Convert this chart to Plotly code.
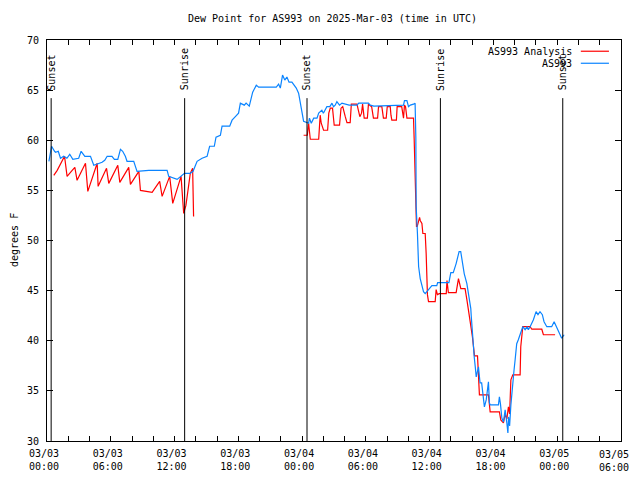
import pandas as pd
import plotly.graph_objects as go

BASE = pd.Timestamp("2025-03-03 00:00")
TITLE = "Dew Point for AS993 on 2025-Mar-03 (time in UTC)"

# Observed (AS993): hours since 2025-03-03 00:00 UTC, dew point F
obs_hours = [0.18, 0.43, 0.71, 0.81, 1.06, 1.27, 1.57, 1.87, 2.14, 2.43, 2.98, 3.21, 3.56, 4.09, 4.40,
             5.18, 5.43, 5.66, 6.11, 6.34, 6.66, 6.91, 7.12, 7.37, 7.53, 8.16, 8.47, 9.57, 11.30, 11.45,
             12.24, 12.57, 12.93, 13.48, 13.74, 14.12, 14.59, 15.06, 15.30, 15.74, 15.90, 16.31, 16.47,
             17.19, 17.41, 17.72, 18.02, 18.19, 18.56, 18.73, 19.03, 19.35, 19.69, 19.91, 21.57, 21.79,
             21.95, 22.16, 22.37, 22.57, 22.77, 23.04, 23.45, 23.67, 23.83, 23.98, 24.14, 24.61, 24.69,
             24.86, 25.09, 25.40, 25.56, 25.86, 26.00, 26.15, 26.33, 26.61, 26.81, 26.96, 27.11, 27.27,
             27.52, 27.75, 28.42, 29.16, 29.33, 30.24, 30.41, 30.75, 33.54, 33.63, 33.86, 34.01, 34.18,
             34.48, 34.63, 34.70, 34.73, 34.85, 34.88, 34.96, 35.11, 35.27, 35.42, 35.58, 35.89, 36.21,
             36.67, 36.75, 37.61, 37.81, 37.99, 38.22, 38.49, 38.77, 38.92, 39.12, 39.25, 39.50, 39.74,
             39.87, 39.91, 39.96, 40.02, 40.11, 40.19, 40.29, 40.38, 40.59, 40.74, 40.89, 41.06,
             41.15, 41.32, 41.53, 41.62, 41.70, 42.47, 42.56, 42.66, 42.79, 42.94, 43.10, 43.26, 43.36,
             43.42, 43.52, 43.64, 43.82, 43.94, 44.04, 44.19, 44.34, 44.51, 44.76, 44.98, 45.18, 45.28,
             45.45, 45.76, 46.01, 46.19, 46.38, 46.60, 46.76, 47.02, 47.48, 47.71, 47.91, 48.18, 48.42,
             48.65]
obs_dewpt = [57.9, 59.4, 58.9, 58.8, 58.9, 58.2, 58.4, 58.2, 58.6, 58.1, 58.2, 58.9, 58.4, 58.4, 57.5,
             57.8, 58.0, 58.4, 58.4, 58.1, 58.1, 59.1, 58.9, 58.4, 57.9, 57.9, 56.9, 57.0, 57.0, 56.4,
             56.1, 56.4, 56.7, 56.7, 56.9, 57.9, 58.2, 58.4, 59.4, 59.4, 60.3, 60.5, 61.4,
             61.4, 62.0, 62.35, 62.7, 63.7, 63.5, 63.7, 63.4, 64.8, 65.5, 65.3, 65.3, 65.6,
             65.2, 66.5, 66.0, 66.3, 65.8, 65.8, 65.2, 64.7, 63.7, 62.5, 61.9, 61.7, 62.2,
             61.7, 62.2, 62.2, 62.7, 63.0, 62.7, 63.0, 63.35, 63.35, 63.7, 63.35, 63.5, 63.85,
             63.5, 63.7, 63.5, 63.5, 63.7, 63.7, 63.5, 63.4, 63.5, 63.95, 63.95, 63.35, 63.5,
             63.6, 63.7, 60.2, 53.4, 50.7, 48.7, 47.4, 46.2, 45.4, 44.9, 44.7, 45.1, 45.5,
             45.5, 45.8, 45.8, 45.8, 46.8, 46.8, 47.7, 48.9, 48.9, 47.7, 46.7, 45.7, 44.2,
             43.2, 42.5, 41.7, 40.1, 39.4, 38.4, 37.4, 36.4, 37.4, 35.8, 35.8, 34.4,
             33.4, 34.1, 35.9, 33.8, 33.6, 33.6, 34.4, 33.7, 32.3, 31.9, 33.1, 31.8, 30.8,
             32.4, 31.5, 33.6, 36.1, 37.1, 38.1, 39.7, 40.1, 40.6, 41.4, 41.1, 41.4, 41.1,
             41.4, 42.1, 42.9, 42.6, 42.9, 42.6, 41.9, 41.4, 41.4, 41.9, 41.4, 40.75, 40.25,
             40.6]

# Analysis (AS993 Analysis); None marks the gap in the analysis record
ana_hours = [0.64, 0.96, 1.65, 1.89, 2.37, 2.62, 2.83, 3.62, 3.84, 4.72, 4.81, 5.60, 5.81, 6.66, 6.85,
             7.69, 7.85, 8.64, 8.79, 9.35, 9.89, 10.60, 10.83, 11.54, 11.83, 12.61, 12.86, 13.07,
             13.48, 13.70, 13.79, 18.1,
             24.14, 24.49, 24.61, 24.77, 25.56, 25.65, 25.70, 25.80, 26.02, 26.40, 26.51, 26.65, 26.86,
             27.02, 27.52, 27.66, 27.82, 28.06, 28.22, 28.52, 28.63, 29.16, 29.33, 29.43, 29.59, 29.69,
             29.84, 30.14, 30.24, 30.54, 30.71, 31.10, 31.19, 31.50, 31.65, 31.91, 32.01, 32.29, 32.36,
             32.44, 32.87, 32.94, 33.37, 33.54, 33.63, 33.73, 33.86, 34.48, 34.54, 34.63, 34.66,
             34.70, 34.76, 34.83, 35.05, 35.11, 35.27, 35.36, 35.58, 35.67, 35.73, 35.79, 35.89,
             36.52, 36.61, 36.73, 36.90, 37.56, 37.63, 37.76, 38.49, 38.71, 38.93, 39.33, 39.50,
             39.65, 39.81, 40.02, 40.11, 40.22, 40.50, 40.59, 40.68, 41.53, 41.69, 42.56, 42.69,
             42.94, 43.10, 43.26, 43.41, 43.52, 43.64, 43.82, 44.51, 44.57, 44.76, 45.45, 45.61,
             46.55, 46.70, 47.80]
ana_dewpt = [56.5, 57.0, 58.4, 56.4, 57.0, 57.3, 56.0, 57.7, 54.9, 57.7, 55.4, 57.2, 55.7, 57.5, 55.8,
             57.3, 55.6, 56.9, 55.0, 54.9, 54.8, 55.9, 54.4, 56.4, 53.7, 56.4, 52.7, 53.5,
             56.7, 57.2, 52.4, None,
             60.5, 60.5, 61.7, 60.1, 60.1, 62.0, 62.5, 61.7, 61.0, 61.0, 62.7, 63.2, 63.2,
             61.5, 61.5, 63.2, 63.35, 62.35, 61.75, 61.75, 63.6, 63.6, 62.7, 62.35, 62.7, 63.6,
             62.2, 62.2, 63.6, 63.35, 62.2, 62.2, 63.35, 63.35, 62.2, 62.2, 63.35, 63.35, 62.5,
             62.0, 62.0, 63.35, 63.35, 62.2, 63.5, 63.35, 62.2, 62.2, 60.2, 56.2, 53.4,
             52.9, 51.4, 51.4, 52.3, 52.0, 51.7, 50.7, 50.7, 48.7, 46.4, 44.6, 43.9,
             43.9, 45.1, 44.6, 44.7, 44.7, 46.0, 44.8, 44.8, 46.2, 45.2, 45.2, 44.1,
             43.2, 41.9, 40.4, 39.6, 38.5, 38.5, 35.6, 34.6, 34.6, 32.9, 32.9, 32.1,
             31.8, 32.7, 32.2, 33.4, 32.7, 36.1, 36.6, 36.6, 39.4, 41.4, 41.4, 41.15,
             41.15, 40.6, 40.6]

# Sun events (hours since start)
event_names = ["Sunset", "Sunrise", "Sunset", "Sunrise", "Sunset"]
event_hours = [0.39, 12.95, 24.46, 37.01, 48.52]

y_ticks = [30, 35, 40, 45, 50, 55, 60, 65, 70]


def to_time(hours):
    return [BASE + pd.Timedelta(hours=h) for h in hours]


FONT = "DejaVu Sans Mono"
RED = "#ff0000"
BLUE = "#0a84ff"

fig = go.Figure()
fig.add_trace(go.Scatter(x=to_time(ana_hours), y=ana_dewpt, mode="lines", name="AS993 Analysis",
                         line=dict(color=RED, width=1.2), connectgaps=False))
fig.add_trace(go.Scatter(x=to_time(obs_hours), y=obs_dewpt, mode="lines", name="AS993",
                         line=dict(color=BLUE, width=1.2)))

# sun event lines + labels
for name, h in zip(event_names, event_hours):
    t = BASE + pd.Timedelta(hours=h)
    fig.add_shape(type="line", xref="x", yref="y", x0=t, x1=t, y0=30, y1=64.2,
                  line=dict(color="black", width=1))
    fig.add_annotation(x=t, y=0.869, xref="x", yref="paper", text=name, textangle=-90,
                       showarrow=False, xanchor="center", yanchor="bottom",
                       font=dict(family=FONT, size=10, color="black"))

# x ticks every 2 h, labels every 6 h (gnuplot labels sit slightly left of their tick);
# the last label is drawn right-aligned so it stays inside the page
tick_hours = list(range(0, 55, 2))
tickvals = to_time(tick_hours)
ticktext = []
for h, t in zip(tick_hours, tickvals):
    if h % 6 != 0 or h == tick_hours[-1]:
        ticktext.append("")
    else:
        ticktext.append(t.strftime("%m/%d") + "&nbsp;<br>" + t.strftime("%H:%M") + "&nbsp;")
last_t = tickvals[-1]
fig.add_annotation(x=1.0165, y=-0.0185, xref="paper", yref="paper",
                   text=last_t.strftime("%m/%d") + "<br>" + last_t.strftime("%H:%M"),
                   showarrow=False, xanchor="right", yanchor="top", borderpad=0,
                   font=dict(family=FONT, size=10, color="black"))

# gnuplot-style legend (text right-aligned, sample line to the right)
legend_items = [("AS993 Analysis", RED, 0.972), ("AS993", BLUE, 0.942)]
for label, col, yy in legend_items:
    fig.add_annotation(x=0.918, y=yy, xref="paper", yref="paper", text=label, showarrow=False,
                       xanchor="right", yanchor="middle", font=dict(family=FONT, size=10, color="black"))
    fig.add_shape(type="line", xref="paper", yref="paper", x0=0.930, x1=0.979, y0=yy, y1=yy,
                  line=dict(color=col, width=1.2))

# y-axis title
fig.add_annotation(x=-0.0566, y=0.5, xref="paper", yref="paper", text="degrees F", textangle=-90,
                   showarrow=False, xanchor="center", yanchor="middle",
                   font=dict(family=FONT, size=10, color="black"))

fig.update_layout(
    width=624, height=464,
    margin=dict(l=38.5, r=11, t=31.5, b=31.3, autoexpand=False),
    paper_bgcolor="white", plot_bgcolor="white",
    showlegend=False,
    font=dict(family=FONT, size=10, color="black"),
    title=dict(text=TITLE, x=0.52, xanchor="center", y=0.9763, yanchor="middle",
               font=dict(family=FONT, size=10, color="black"), automargin=False),
)
fig.update_xaxes(type="date", range=[BASE, BASE + pd.Timedelta(hours=54)], automargin=False,
                 tickmode="array", tickvals=tickvals, ticktext=ticktext,
                 ticks="inside", ticklen=5, tickcolor="black", showgrid=False, zeroline=False,
                 showline=True, linecolor="black", linewidth=1, mirror="ticks",
                 ticklabelstandoff=3, ticklabeloverflow="allow",
                 tickfont=dict(family=FONT, size=10, color="black"))
fig.update_yaxes(range=[30, 70], tickmode="array", tickvals=y_ticks, automargin=False,
                 ticks="inside", ticklen=6, tickcolor="black", showgrid=False, zeroline=False,
                 showline=True, linecolor="black", linewidth=1, mirror="ticks",
                 ticklabelstandoff=5,
                 tickfont=dict(family=FONT, size=10, color="black"))

fig.write_html("out.html")
